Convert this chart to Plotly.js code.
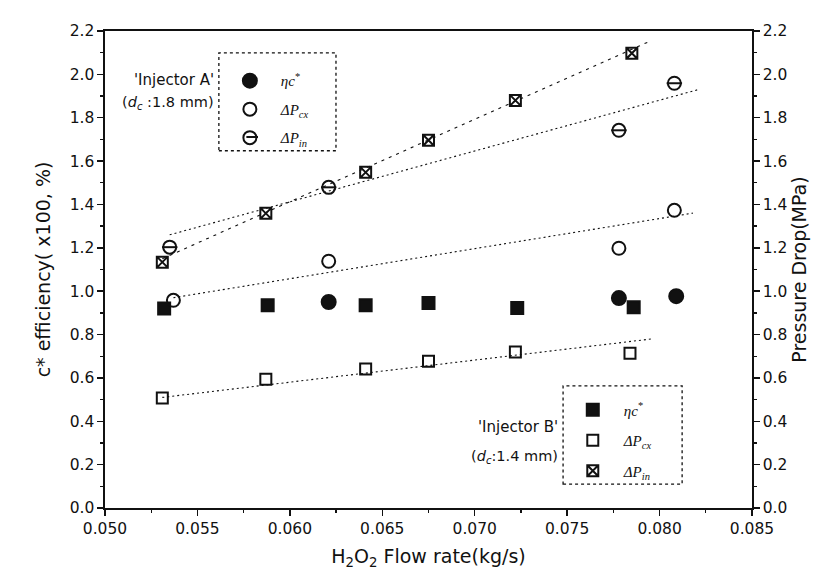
<!DOCTYPE html>
<html>
<head>
<meta charset="utf-8">
<script src="https://cdn.plot.ly/plotly-3.0.1.min.js"></script>
<style>html,body{margin:0;padding:0;background:#fff;}#chart{width:827px;height:583px;}</style>
</head>
<body>
<div id="chart"></div>
<script>
// ---- Data ----
// Injector A (dc = 1.8 mm)
const aEtaX = [0.0621, 0.0778, 0.0809];
const aEtaY = [0.95, 0.968, 0.977];
const aCxX  = [0.0537, 0.0621, 0.0778, 0.0808];
const aCxY  = [0.958, 1.138, 1.198, 1.373];
const aInX  = [0.0535, 0.0621, 0.0778, 0.0808];
const aInY  = [1.203, 1.479, 1.742, 1.959];
// Injector B (dc = 1.4 mm)
const bEtaX = [0.0532, 0.0588, 0.0641, 0.0675, 0.0723, 0.0786];
const bEtaY = [0.92, 0.935, 0.935, 0.945, 0.922, 0.926];
const bCxX  = [0.0531, 0.0587, 0.0641, 0.0675, 0.0722, 0.0784];
const bCxY  = [0.507, 0.594, 0.641, 0.677, 0.719, 0.714];
const bInX  = [0.0531, 0.0587, 0.0641, 0.0675, 0.0722, 0.0785];
const bInY  = [1.134, 1.359, 1.548, 1.696, 1.880, 2.097];
// Linear fit lines (end points)
const fitACxX = [0.0537, 0.0818], fitACxY = [0.97, 1.36];
const fitAInX = [0.0535, 0.0821], fitAInY = [1.26, 1.93];
const fitBCxX = [0.0531, 0.0796], fitBCxY = [0.51, 0.78];
const fitBInX = [0.0531, 0.0794], fitBInY = [1.15, 2.15];

const xTicks = [0.050, 0.055, 0.060, 0.065, 0.070, 0.075, 0.080, 0.085];
const yTicks = [0.0, 0.2, 0.4, 0.6, 0.8, 1.0, 1.2, 1.4, 1.6, 1.8, 2.0, 2.2];

const labels = {
  eta: '<i>ηc</i><sup>*</sup>',
  cx: '<i>ΔP<sub>cx</sub></i>',
  inj: '<i>ΔP<sub>in</sub></i>'
};

const K = '#111';
function fit(x, y, dash) {
  return {x: x, y: y, yaxis: 'y2', mode: 'lines', showlegend: false, hoverinfo: 'skip',
          line: {color: K, width: 1.1, dash: dash}};
}
function pts(x, y, sym, size, legend, name, group, yax, show) {
  return {x: x, y: y, yaxis: yax, mode: 'markers', name: name, legend: legend,
          legendgroup: group, showlegend: show,
          marker: {symbol: sym, size: size, color: K, line: {color: K, width: 2}}};
}

const traces = [
  fit(fitBInX, fitBInY, '3px,5px'),
  fit(fitAInX, fitAInY, '2px,3px'),
  fit(fitACxX, fitACxY, '2px,3px'),
  fit(fitBCxX, fitBCxY, '2px,3px'),
  // Injector A
  pts(aEtaX, aEtaY, 'circle', 14, 'legend', labels.eta, 'a1', 'y', true),
  pts(aCxX, aCxY, 'circle-open', 13, 'legend', labels.cx, 'a2', 'y2', true),
  pts(aInX, aInY, 'circle-open', 13, 'legend', labels.inj, 'a3', 'y2', true),
  pts(aInX, aInY, 'line-ew-open', 11, 'legend', labels.inj, 'a3', 'y2', false),
  // Injector B
  pts(bEtaX, bEtaY, 'square', 12, 'legend2', labels.eta, 'b1', 'y', true),
  pts(bCxX, bCxY, 'square-open', 11, 'legend2', labels.cx, 'b2', 'y2', true),
  pts(bInX, bInY, 'square-x-open', 11, 'legend2', labels.inj, 'b3', 'y2', true)
];

const fam = 'DejaVu Sans, Arial, sans-serif';
const font = {family: fam, size: 15.5, color: K};
const axisCommon = {
  showgrid: false, zeroline: false, showline: true, linecolor: K, linewidth: 1.6,
  ticks: 'outside', ticklen: 6, tickwidth: 1.4, tickcolor: K,
  tickfont: {family: fam, size: 15.5, color: K}
};
const titleFont = {family: fam, size: 19, color: K};

const layout = {
  width: 827, height: 583,
  margin: {l: 105, r: 75, t: 31, b: 75},
  paper_bgcolor: '#fff', plot_bgcolor: '#fff',
  font: font,
  xaxis: Object.assign({}, axisCommon, {
    range: [0.050, 0.085], tickvals: xTicks, tickformat: '.3f', mirror: true,
    minor: {dtick: 0.0025, ticks: 'outside', ticklen: 3, tickcolor: K},
    title: {text: 'H<sub>2</sub>O<sub>2</sub> Flow rate(kg/s)', font: titleFont, standoff: 12}
  }),
  yaxis: Object.assign({}, axisCommon, {
    range: [0, 2.2], tickvals: yTicks, tickformat: '.1f',
    minor: {dtick: 0.1, ticks: 'outside', ticklen: 3, tickcolor: K},
    title: {text: 'c* efficiency( x100, %)', font: titleFont, standoff: 14}
  }),
  yaxis2: Object.assign({}, axisCommon, {
    range: [0, 2.2], tickvals: yTicks, tickformat: '.1f', overlaying: 'y', side: 'right',
    minor: {dtick: 0.1, ticks: 'outside', ticklen: 3, tickcolor: K},
    title: {text: 'Pressure Drop(MPa)', font: titleFont, standoff: 6}
  }),
  legend: {
    x: 0.176, y: 0.93, xanchor: 'left', yanchor: 'top', bgcolor: 'rgba(0,0,0,0)',
    borderwidth: 0, traceorder: 'grouped', tracegroupgap: 6,
    font: {family: 'Liberation Serif, serif', size: 15, color: K}, itemwidth: 52
  },
  legend2: {
    x: 0.706, y: 0.24, xanchor: 'left', yanchor: 'top', bgcolor: 'rgba(0,0,0,0)',
    borderwidth: 0, traceorder: 'grouped', tracegroupgap: 8,
    font: {family: 'Liberation Serif, serif', size: 15, color: K}, itemwidth: 52
  },
  shapes: [
    {type: 'rect', xref: 'paper', yref: 'paper', x0: 0.176, x1: 0.357, y0: 0.749, y1: 0.954,
     line: {color: K, width: 1.3, dash: 'dot'}},
    {type: 'rect', xref: 'paper', yref: 'paper', x0: 0.708, x1: 0.892, y0: 0.050, y1: 0.256,
     line: {color: K, width: 1.3, dash: 'dot'}},
    // horizontal bar of the circle-with-line legend symbol
    {type: 'line', xref: 'paper', yref: 'paper', x0: 0.2185, x1: 0.2365, y0: 0.7778, y1: 0.7778,
     line: {color: K, width: 2}}
  ],
  annotations: [
    {xref: 'paper', yref: 'paper', x: 0.172, y: 0.897, xanchor: 'right', yanchor: 'middle', showarrow: false,
     text: "'Injector A'", font: {family: fam, size: 15, color: K}},
    {xref: 'paper', yref: 'paper', x: 0.172, y: 0.850, xanchor: 'right', yanchor: 'middle', showarrow: false,
     text: '(<i>d<sub>c</sub></i> :1.8 mm)', font: {family: fam, size: 14.5, color: K}},
    {xref: 'paper', yref: 'paper', x: 0.704, y: 0.170, xanchor: 'right', yanchor: 'middle', showarrow: false,
     text: "'Injector B'", font: {family: fam, size: 15, color: K}},
    {xref: 'paper', yref: 'paper', x: 0.704, y: 0.107, xanchor: 'right', yanchor: 'middle', showarrow: false,
     text: '(<i>d<sub>c</sub></i>:1.4 mm)', font: {family: fam, size: 14.5, color: K}}
  ]
};

Plotly.newPlot('chart', traces, layout, {displayModeBar: false, staticPlot: true});
</script>
</body>
</html>
